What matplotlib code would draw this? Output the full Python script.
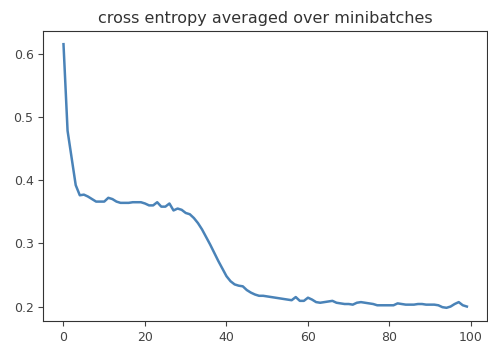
import numpy as np
import matplotlib
matplotlib.use("Agg")
import matplotlib.pyplot as plt

# per-epoch cross entropy, averaged over all minibatches of the epoch
losses = [
    0.615, 0.478, 0.435, 0.392, 0.376, 0.377, 0.374, 0.370, 0.366, 0.366,
    0.366, 0.372, 0.370, 0.366, 0.364, 0.364, 0.364, 0.365, 0.365, 0.365,
    0.363, 0.360, 0.360, 0.365, 0.358, 0.358, 0.363, 0.352, 0.355, 0.353,
    0.348, 0.346, 0.340, 0.332, 0.322, 0.310, 0.298, 0.285, 0.272, 0.260,
    0.248, 0.240, 0.235, 0.233, 0.232, 0.226, 0.222, 0.219, 0.217, 0.217,
    0.216, 0.215, 0.214, 0.213, 0.212, 0.211, 0.210, 0.215, 0.209, 0.209,
    0.214, 0.211, 0.207, 0.206, 0.207, 0.208, 0.209, 0.206, 0.205, 0.204,
    0.204, 0.203, 0.206, 0.207, 0.206, 0.205, 0.204, 0.202, 0.202, 0.202,
    0.202, 0.202, 0.205, 0.204, 0.203, 0.203, 0.203, 0.204, 0.204, 0.203,
    0.203, 0.203, 0.202, 0.199, 0.198, 0.200, 0.204, 0.207, 0.202, 0.200,
]
epochs = np.arange(len(losses))

fig = plt.figure(figsize=(4.89, 3.44), dpi=100)
ax = fig.add_axes([0.0886, 0.0669, 0.9074, 0.843])
ax.plot(epochs, losses, color="#4a83b8", lw=1.8)
ax.set_xticks([0, 20, 40, 60, 80, 100])
ax.set_yticks([0.2, 0.3, 0.4, 0.5, 0.6])
ax.tick_params(labelsize=9, colors="#444444")
for s in ax.spines.values():
    s.set_color("#333333")
ax.set_title("cross entropy averaged over minibatches", fontsize=11.5, color="#333333")

fig.savefig("out.png", dpi=100)
